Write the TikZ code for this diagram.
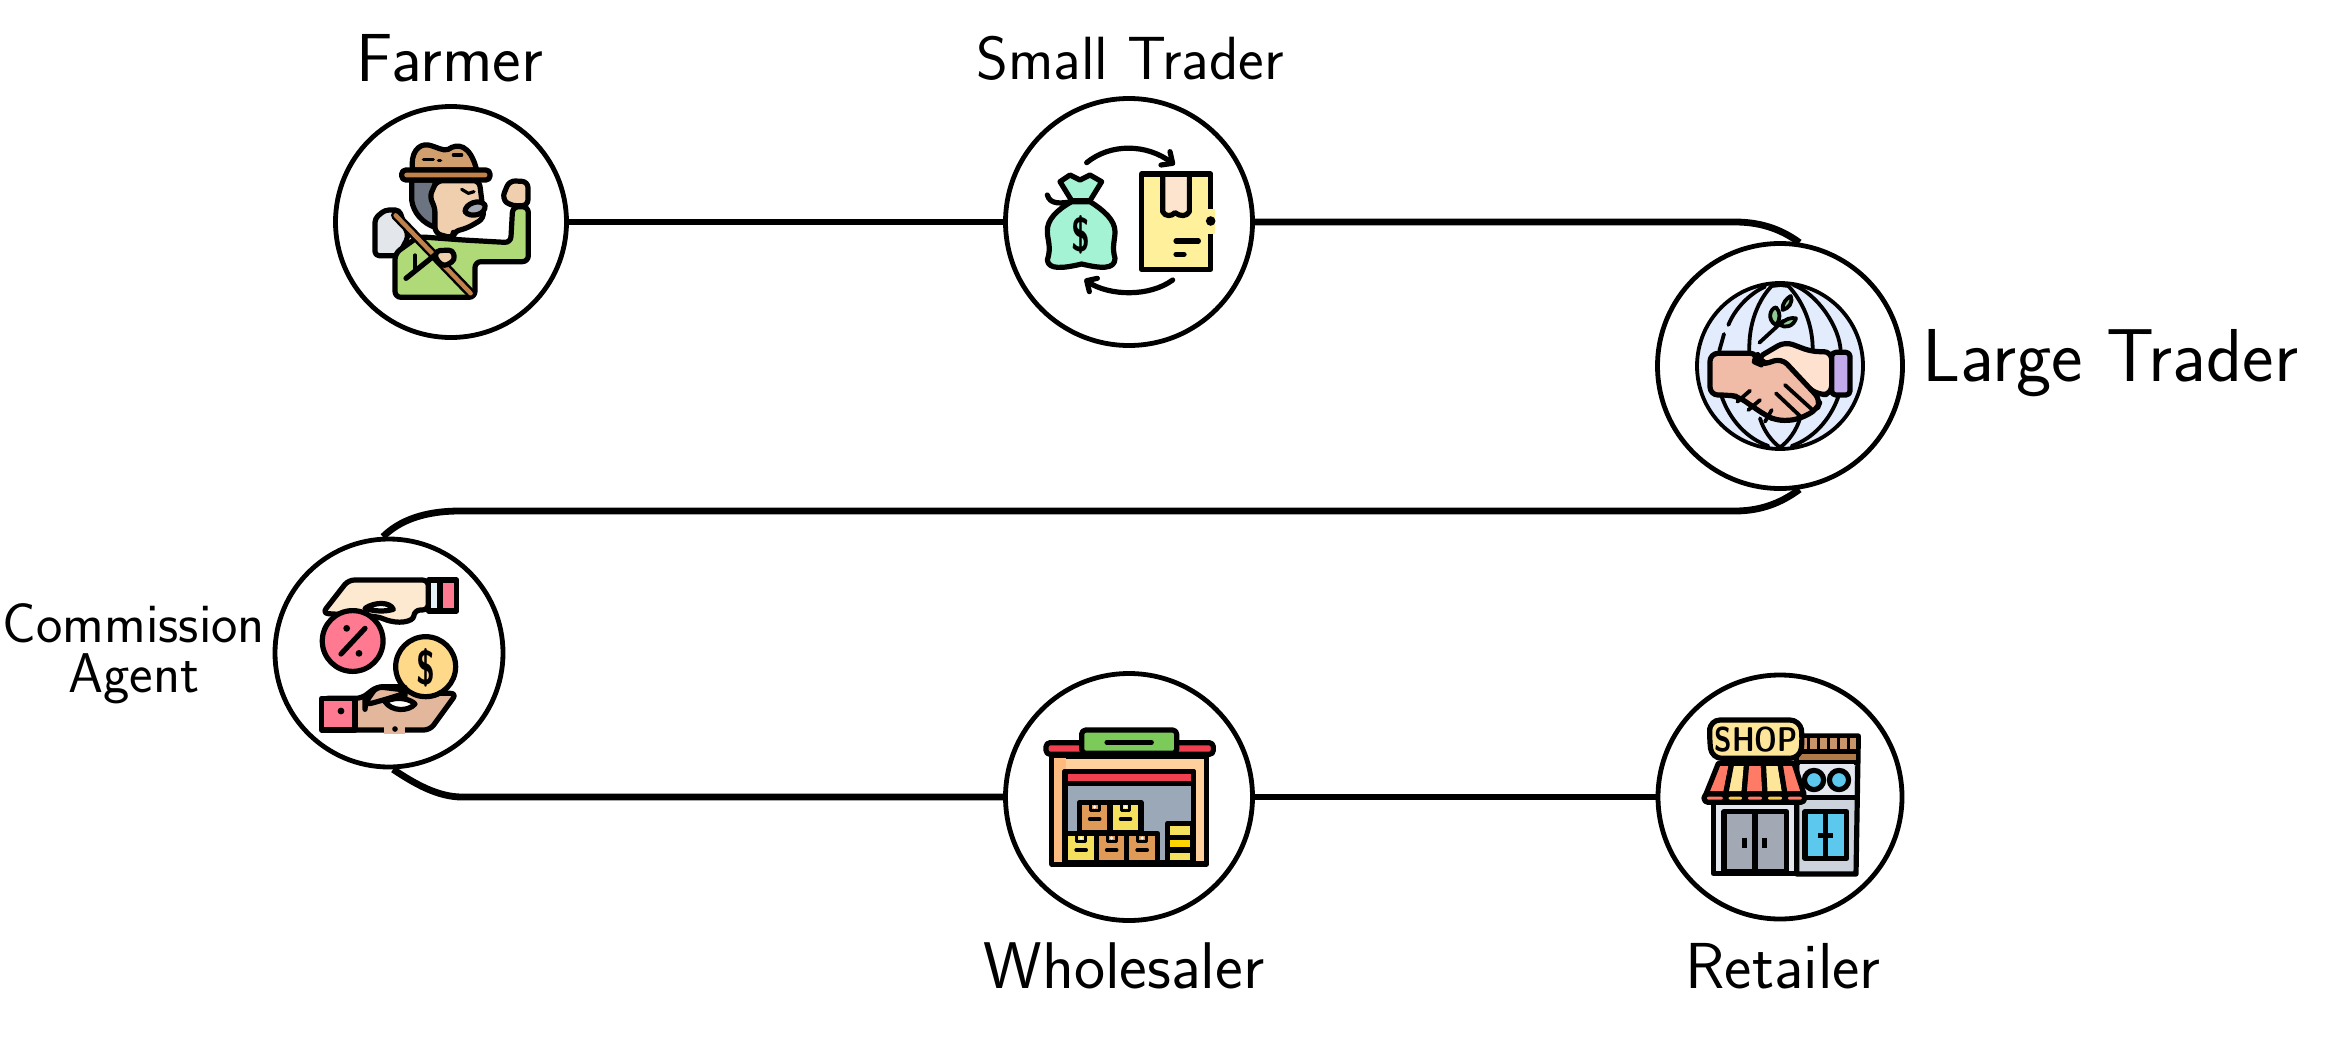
\documentclass[tikz,border=0pt]{standalone}
\usepackage{fontspec}
\definecolor{hatb}{HTML}{C0824A}\definecolor{hatc}{HTML}{D19F6E}\definecolor{skin}{HTML}{F0CFAE}
\definecolor{shirt}{HTML}{B0D977}\definecolor{hairg}{HTML}{6B7480}\definecolor{blade}{HTML}{E3E7EC}
\definecolor{mint}{HTML}{A5F3D5}\definecolor{boxy}{HTML}{FFF09C}\definecolor{tape}{HTML}{FCE4CE}
\definecolor{globe}{HTML}{E3ECFC}\definecolor{leaf}{HTML}{8FCB8F}\definecolor{handr}{HTML}{FFE1CF}
\definecolor{handl}{HTML}{F0BCA8}\definecolor{cuff}{HTML}{C3ABEB}
\definecolor{pinkc}{HTML}{FF7A90}\definecolor{goldc}{HTML}{FFD98A}\definecolor{handu}{HTML}{FDE8D0}
\definecolor{handd}{HTML}{E3B79C}\definecolor{cuffw}{HTML}{E4F1F8}
\definecolor{redb}{HTML}{F0404F}\definecolor{greenb}{HTML}{7CCB5A}\definecolor{peach}{HTML}{FFD09C}
\definecolor{peachd}{HTML}{FDBB80}\definecolor{inner}{HTML}{9AA8B8}\definecolor{boxo}{HTML}{E09A58}
\definecolor{boxl}{HTML}{F5E05E}\definecolor{midy}{HTML}{FFD400}
\definecolor{brownc}{HTML}{C9946A}\definecolor{brownd}{HTML}{AD7A48}\definecolor{wallw}{HTML}{E4E7EE}
\definecolor{wallg}{HTML}{CDD3DC}\definecolor{blue1}{HTML}{5CC8EE}\definecolor{doorg}{HTML}{A3A9B4}
\definecolor{awnr}{HTML}{FF7B66}\definecolor{awny}{HTML}{FDE59A}\definecolor{valy}{HTML}{F9C84E}
\newcommand{\tallsym}[1]{\scalebox{0.72}[1]{#1}}
\tikzset{
  stage/.style={circle,draw=black,fill=white,line width=2.4pt,inner sep=0pt,minimum size=#1},
  link/.style={draw=black,line width=3.4pt},
  lab/.style={font=\sffamily\fontsize{#1}{#1}\selectfont,inner sep=0pt,text=black},
  iconat/.style 2 args={shift={(#1,#2)},x=0.166667pt,y=-0.166667pt,line join=round,line cap=round},
  ol/.style={draw=black,line width=2.6pt},
  thin1/.style={draw=black,line width=1.9pt},
  sym/.style={inner sep=0pt,text=black,font=\sffamily\bfseries\fontsize{#1}{#1}\selectfont}
}
\begin{document}
\begin{tikzpicture}[x=0.5pt,y=-0.5pt]
\useasboundingbox (0,0) rectangle (2340,1060);
% stages
\node[stage=115.5pt] (farmer) at (451,222) {};
\node[stage=123.5pt] (small) at (1129,222) {};
\node[stage=122.5pt] (large) at (1780,366) {};
\node[stage=114pt] (comm) at (389,653) {};
\node[stage=123.5pt] (whole) at (1129,797) {};
\node[stage=122pt] (retail) at (1780,797) {};
% connectors
\coordinate (t1) at (1735,222);
\coordinate (m1) at (1735,511);
\coordinate (m2) at (460,511);
\coordinate (b1) at (462,797);
\draw[link] (farmer) -- (small);
\draw[link] (small) -- (t1) .. controls (1765,222) and (1785,232) .. (large.81);
\draw[link] (large.-81) .. controls (1785,500) and (1765,511) .. (m1) -- (m2) .. controls (425,511) and (400,520) .. (comm.93);
\draw[link] (comm.-88) .. controls (415,784) and (438,797) .. (b1) -- (whole);
\draw[link] (whole) -- (retail);
% labels
\node[lab=34] (lf) at (450,58) {Farmer};
\node[lab=30.5] (ls) at (1130,58) {Small Trader};
\node[lab=37.5,anchor=west] (ll) at (1922,363) {Large Trader};
\node[lab=28,align=center] (lc) at (134,654) {Commission\\[-3pt]Agent};
\node[lab=33] (lw) at (1124,966) {Wholesaler};
\node[lab=32.5] (lr) at (1783,966) {Retailer};
% Farmer icon
\begin{scope}[iconat={320}{90}]
\path[ol,fill=blade,rounded corners=2pt] (165,497) -- (165,385) -- (195,360) -- (238,360) -- (265,440) -- (235,497) -- cycle;
\path[ol,fill=shirt,rounded corners=3pt] (225,490) -- (295,440) -- (430,450) -- (572,458) -- (578,350) -- (625,350) -- (625,515) -- (465,515) -- (465,622) -- (225,622) -- cycle;
\path[ol,fill=hairg] (275,270) -- (275,330) .. controls (280,370) and (310,400) .. (345,412) -- (345,270) -- cycle;
\path[ol,fill=skin,rounded corners=3pt] (350,272) -- (478,272) -- (492,385) -- (440,415) -- (400,425) -- (400,445) -- (345,430) -- (345,350) -- (328,322) -- cycle;
\path[ol,fill=doorg] (435,365) .. controls (435,340) and (480,325) .. (495,345) .. controls (500,375) and (450,385) .. (435,365) -- cycle;
\draw[ol,line width=1.6pt] (425,298) -- (445,310) -- (462,305);
\path[ol,fill=skin,rounded corners=3pt] (546,325) -- (568,272) -- (624,275) -- (624,347) -- (570,347) -- cycle;
\path[ol,fill=hatc] (278,240) .. controls (270,190) and (295,160) .. (325,165) .. controls (350,170) and (370,185) .. (385,178) .. controls (410,160) and (450,160) .. (470,240) -- cycle;
\path[ol,fill=hatb,rounded corners=2pt] (245,240) rectangle (510,270);
\draw[ol,line width=1.6pt] (310,208) -- (340,208) (355,212) -- (362,212) (400,195) -- (425,195);
\draw[draw=black,line width=4.7pt] (227,376) -- (452,610);
\draw[draw=hatb,line width=2.2pt] (227,376) -- (452,610);
\draw[ol] (258,565) -- (345,495);
\path[ol,fill=skin,rounded corners=2pt] (348,482) -- (398,480) -- (405,510) -- (372,530) -- (345,505) -- cycle;
\draw[ol,line width=1.6pt] (285,495) -- (285,535);
\end{scope}
% Small trader icon
\begin{scope}[iconat={1000}{90}]
\draw[ol] (260,218) .. controls (330,160) and (440,160) .. (515,218);
\draw[ol] (510,185) -- (518,220) -- (483,225);
\draw[ol] (518,570) .. controls (450,620) and (330,620) .. (262,575);
\draw[ol] (292,565) -- (260,572) -- (268,605);
\path[ol,fill=mint] (215,335) .. controls (170,360) and (140,390) .. (142,425) .. controls (142,450) and (155,470) .. (142,510) .. controls (145,540) and (190,535) .. (245,522) .. controls (300,535) and (345,540) .. (345,505) .. controls (335,470) and (345,450) .. (345,425) .. controls (345,390) and (310,360) .. (270,335) -- cycle;
\path[ol,fill=mint] (180,275) -- (210,255) -- (240,270) -- (270,255) -- (305,275) -- (270,332) -- (215,332) -- cycle;
\draw[ol] (142,315) .. controls (150,345) and (185,340) .. (215,335);
\node[sym=24] (bagdollar) at (243,435) {\tallsym{\$}};
\path[ol,fill=boxy] (425,252) rectangle (632,538);
\path[draw=none,fill=boxy] (622,356) rectangle (645,432);
\fill[tape] (490,262) rectangle (565,365);
\draw[ol] (488,258) -- (488,365) .. controls (495,380) and (515,380) .. (525,368) .. controls (540,380) and (560,380) .. (568,365) -- (568,258);
\fill[black] (632,393) circle (2.4pt);
\draw[ol] (528,453) -- (595,453) (528,493) -- (552,493);
\end{scope}
% Large trader icon
\begin{scope}[iconat={1650}{230}]
\path[thin1,fill=globe] (390,408) circle (41.5pt);
\draw[thin1] (298,365) .. controls (295,280) and (325,210) .. (365,168);
\draw[thin1] (488,365) .. controls (490,280) and (455,210) .. (415,168);
\draw[thin1] (572,365) .. controls (570,290) and (500,190) .. (430,165);
\draw[thin1] (208,362) -- (222,312);
\draw[thin1] (235,285) .. controls (255,235) and (300,190) .. (345,170);
\draw[thin1] (215,500) .. controls (240,570) and (290,625) .. (355,648);
\draw[thin1] (565,500) .. controls (540,570) and (490,625) .. (425,648);
\draw[thin1] (330,565) .. controls (340,600) and (365,635) .. (390,652) .. controls (415,635) and (440,600) .. (450,565);
\draw[thin1] (365,168) -- (392,165) -- (415,168);
\draw[thin1] (328,338) -- (400,272);
\path[thin1,fill=leaf] (378,285) .. controls (350,270) and (360,235) .. (378,232) .. controls (392,245) and (392,270) .. (378,285) -- cycle;
\path[thin1,fill=leaf] (390,285) .. controls (405,265) and (425,262) .. (438,265) .. controls (430,290) and (405,295) .. (390,285) -- cycle;
\path[thin1,fill=leaf] (398,240) .. controls (395,220) and (410,205) .. (422,198) .. controls (430,220) and (415,235) .. (398,240) -- cycle;
\path[ol,fill=handr,rounded corners=4pt] (320,385) -- (405,335) -- (485,365) -- (545,365) -- (545,492) -- (505,495) -- (430,440) -- cycle;
\path[ol,fill=cuff,rounded corners=2pt] (545,367) rectangle (600,495);
\path[ol,fill=handl,rounded corners=4pt] (180,370) -- (325,370) -- (312,395) -- (335,405) -- (395,385) -- (512,510) -- (500,540) -- (440,570) -- (380,572) -- (345,555) -- (265,500) -- (235,495) -- (180,495) -- cycle;
\draw[thin1] (405,465) -- (490,542) (378,490) -- (450,558) (300,482) -- (262,515) (330,510) -- (295,540) (365,540) -- (345,575);
\end{scope}
% Commission icon
\begin{scope}[iconat={265}{530}]
\path[ol,fill=handu,rounded corners=3pt] (250,150) -- (490,150) -- (490,240) -- (448,240) .. controls (445,275) and (400,285) .. (340,260) -- (172,250) -- cycle;
\path[ol,fill=white] (300,235) .. controls (330,215) and (375,215) .. (385,238) .. controls (360,245) and (330,245) .. (300,235) -- cycle;
\path[ol,fill=cuffw] (490,150) rectangle (525,243);
\path[ol,fill=pinkc] (525,150) rectangle (575,243);
\path[ol,fill=pinkc] (263,333) circle (15.2pt);
\draw[ol] (228,372) -- (300,295);
\fill[black] (245,295) circle (1.7pt) (282,370) circle (1.7pt);
\path[ol,fill=handd,rounded corners=3pt] (170,505) -- (290,505) -- (335,470) -- (415,470) -- (470,490) -- (575,490) -- (495,600) -- (170,600) -- cycle;
\path[ol,fill=goldc] (482,410) circle (15pt);
\path[ol,fill=handd,rounded corners=3pt] (300,520) -- (335,470) -- (420,480) -- (420,490) -- (355,510) -- (300,525) -- cycle;
\path[ol,fill=white] (360,515) .. controls (400,495) and (440,510) .. (450,522) .. controls (430,545) and (380,545) .. (360,515) -- cycle;
\path[ol,fill=pinkc] (170,505) rectangle (270,600);
\fill[black] (228,543) circle (1.7pt);
\fill[handd] (358,592) rectangle (420,612);
\fill[black] (390,597) circle (1.4pt);
\node[sym=24] (coindollar) at (482,412) {\tallsym{\$}};
\end{scope}
% Wholesaler icon
\begin{scope}[iconat={1000}{670}]
\path[ol,fill=redb,rounded corners=2pt] (138,218) rectangle (640,253);
\path[ol,fill=greenb,rounded corners=2pt] (245,180) rectangle (530,250);
\draw[ol,line width=2.2pt] (320,217) -- (455,217);
\path[ol,fill=peach] (155,258) rectangle (620,582);
\fill[peachd] (162,265) rectangle (198,575);
\path[ol,fill=inner] (195,305) rectangle (580,578);
\path[ol,fill=redb] (195,305) rectangle (580,340);
\foreach \a/\b/\c/\d/\k/\n in {238/397/330/487/boxo/a,330/397/423/487/boxl/b,197/490/290/578/boxl/c,290/490/380/578/boxo/d,380/490/473/578/boxo/e}{
  \path[ol,fill=\k] (\a,\b) rectangle (\c,\d);
  \draw[ol,line width=1.8pt] ({(\a+\c)/2-15},{\b+50}) -- ({(\a+\c)/2+15},{\b+50});
  \draw[ol,line width=1.5pt] ({(\a+\c)/2-13},\b) -- ({(\a+\c)/2-13},{\b+25}) -- ({(\a+\c)/2+13},{\b+25}) -- ({(\a+\c)/2+13},\b);
  \fill[white] ({(\a+\c)/2},{\b+14}) circle (0.9pt);
}
\path[ol,fill=boxl] (503,460) rectangle (578,578);
\path[ol,fill=midy] (503,502) rectangle (578,540);
\end{scope}
% Retailer icon
\begin{scope}[iconat={1650}{670}]
\path[ol,fill=wallg] (440,198) -- (625,198) -- (618,612) -- (440,612) -- cycle;
\fill[brownc] (450,205) rectangle (617,240);
\foreach \xx in {475,505,535,565,595}{\draw[black,line width=1.7pt,line cap=butt] (\xx,205) -- (\xx,240);}
\fill[brownd] (450,252) rectangle (617,272);
\draw[ol,line cap=butt] (445,245) -- (620,245);
\draw[ol,line cap=butt] (445,277) -- (620,277);
\fill[wallw] (450,282) rectangle (612,378);
\draw[ol,line cap=butt] (445,383) -- (620,383);
\path[ol,fill=blue1] (492,330) circle (4.8pt);
\path[ol,fill=blue1] (567,330) circle (4.8pt);
\path[ol,fill=blue1] (465,425) rectangle (590,565);
\draw[ol,line cap=butt] (527,425) -- (527,565);
\draw[ol,line cap=butt] (505,496) -- (550,496);
\path[ol,fill=wallw] (190,398) rectangle (440,610);
\path[ol,fill=doorg] (222,425) rectangle (410,605);
\draw[ol,line cap=butt] (315,425) -- (315,605);
\draw[ol,line cap=butt] (283,503) -- (283,533) (343,503) -- (343,533);
\path[ol,fill=awnr] (205,280) -- (245,280) -- (227,372) -- (168,372) -- cycle;
\path[ol,fill=awny] (245,280) -- (290,280) -- (282,372) -- (227,372) -- cycle;
\path[ol,fill=awnr] (290,280) -- (340,280) -- (345,372) -- (282,372) -- cycle;
\path[ol,fill=awny] (340,280) -- (390,280) -- (405,372) -- (345,372) -- cycle;
\path[ol,fill=awnr] (390,280) -- (432,280) -- (462,372) -- (405,372) -- cycle;
\foreach \xa/\xb/\k in {162/227/awnr,227/285/valy,285/345/awnr,345/405/valy,405/464/awnr}{
  \path[ol,fill=\k,rounded corners=2pt] (\xa,372) rectangle (\xb,397);
}
\path[ol,fill=awny,rounded corners=5pt] (180,150) -- (450,150) -- (458,205) -- (450,265) -- (185,265) -- (178,205) -- cycle;
\node[sym=14.3] (shopsign) at (318,210) {\scalebox{1}[1.2]{SHOP}};
\end{scope}
\end{tikzpicture}
\end{document}
